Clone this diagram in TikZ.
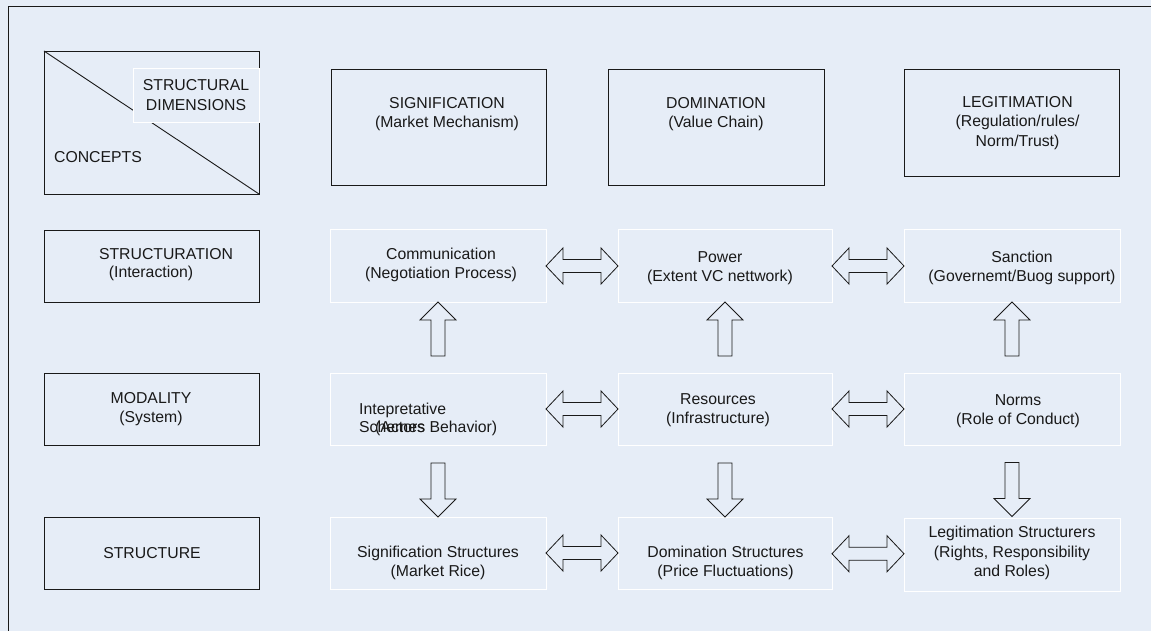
\documentclass[tikz,border=0pt]{standalone}
\usepackage{fontspec}
\setmainfont{Liberation Sans}
\usetikzlibrary{calc}
\definecolor{bg}{RGB}{230,237,247}
\definecolor{ink}{RGB}{25,25,25}
\tikzset{
  darkbox/.style={draw=ink, line width=0.9pt, fill=bg, inner sep=0pt, outer sep=0pt},
  lightbox/.style={draw=white, line width=1pt, fill=bg, inner sep=0pt, outer sep=0pt},
  txt/.style={font=\fontsize{15.8}{19.5}\selectfont, align=center, inner sep=0pt, text=ink},
  blockarrow/.style={draw=ink, line width=0.8pt, fill=bg, line join=miter},
  pics/uparr/.style={code={\draw[blockarrow] (0,0) -- (-18,18) -- (-7,18) -- (-7,54) -- (7,54) -- (7,18) -- (18,18) -- cycle;}},
  pics/downarr/.style={code={\draw[blockarrow] (0,0) -- (-18,-18) -- (-7,-18) -- (-7,-54) -- (7,-54) -- (7,-18) -- (18,-18) -- cycle;}},
  pics/dblarr/.style={code={\draw[blockarrow] (-36,0) -- (-19,-18) -- (-19,-6.5) -- (19,-6.5) -- (19,-18) -- (36,0) -- (19,18) -- (19,6.5) -- (-19,6.5) -- (-19,18) -- cycle;}},
}
\begin{document}
\begin{tikzpicture}[x=1pt,y=-1pt]
\useasboundingbox (0,0) rectangle (1151,631);
\fill[bg] (0,0) rectangle (1151,631);
% outer frame (top and left)
\coordinate (fa) at (8,631);
\coordinate (fb) at (8,6);
\coordinate (fc) at (1151,6);
\draw[ink, line width=0.9pt] (fa) -- (fb) -- (fc);

% concepts box
\node[darkbox, minimum width=215pt, minimum height=143pt] (concept) at (151.5,122.5) {};
\draw[ink, line width=0.9pt] (concept.north west) -- (concept.south east);
\node[lightbox, minimum width=126pt, minimum height=54pt] (dimbox) at (196,96) {};
\node[txt] (dimtxt) at (196,95) {STRUCTURAL\\DIMENSIONS};
\node[txt] (concepttxt) at (98,157) {CONCEPTS};

% top row
\node[darkbox, minimum width=215pt, minimum height=116pt] (sig) at (438.5,127) {};
\node[txt] (sigtxt) at (447,114) {SIGNIFICATION\\(Market Mechanism)};
\node[darkbox, minimum width=216pt, minimum height=116pt] (dom) at (716,127) {};
\node[txt] (domtxt) at (716,114) {DOMINATION\\(Value Chain)};
\node[darkbox, minimum width=215pt, minimum height=107pt] (leg) at (1011.5,122.5) {};
\node[txt] (legtxt) at (1017.5,123) {LEGITIMATION\\(Regulation/rules/\\Norm/Trust)};

% row 2
\node[darkbox, minimum width=215pt, minimum height=72pt] (structuration) at (151.5,266) {};
\node[txt] (structtxta) at (166,254) {STRUCTURATION};
\node[txt] (structtxtb) at (151,273) {(Interaction)};
\node[lightbox, minimum width=216pt, minimum height=72pt] (comm) at (438,266) {};
\node[txt] (commtxt) at (441,265) {Communication\\(Negotiation Process)};
\node[lightbox, minimum width=214pt, minimum height=72pt] (power) at (725,266) {};
\node[txt] (powertxt) at (720,268) {Power\\(Extent VC nettwork)};
\node[lightbox, minimum width=216pt, minimum height=72pt] (sanction) at (1012,266) {};
\node[txt] (sanctxt) at (1022,268) {Sanction\\(Governemt/Buog support)};

% row 3
\node[darkbox, minimum width=215pt, minimum height=72pt] (modality) at (151.5,409) {};
\node[txt] (modtxt) at (151,409) {MODALITY\\(System)};
\node[lightbox, minimum width=216pt, minimum height=72pt] (interp) at (438,409) {};
\node[txt, anchor=base west] (interptxta) at (359,414.5) {Intepretative};
\node[txt, anchor=base west] (interptxtb) at (359,432.5) {Schemes};
\node[txt, anchor=base west] (interptxtc) at (375,432.5) {(Actors Behavior)};
\node[lightbox, minimum width=214pt, minimum height=72pt] (res) at (725,409) {};
\node[txt] (restxt) at (718,410) {Resources\\(Infrastructure)};
\node[lightbox, minimum width=216pt, minimum height=72pt] (norms) at (1012,409) {};
\node[txt] (normstxt) at (1018,411) {Norms\\(Role of Conduct)};

% row 4
\node[darkbox, minimum width=215pt, minimum height=72pt] (structure) at (151.5,553) {};
\node[txt] (structuretxt) at (152,553) {STRUCTURE};
\node[lightbox, minimum width=216pt, minimum height=72pt] (sigs) at (438,553) {};
\node[txt] (sigstxt) at (438,563) {Signification Structures\\(Market Rice)};
\node[lightbox, minimum width=214pt, minimum height=72pt] (doms) at (725,553) {};
\node[txt] (domstxt) at (725.5,563) {Domination Structures\\(Price Fluctuations)};
\node[lightbox, minimum width=216pt, minimum height=73pt] (legs) at (1012,554.5) {};
\node[txt] (legstxt) at (1012,553) {Legitimation Structurers\\(Rights, Responsibility\\and Roles)};

% horizontal double arrows
\pic at ($(comm.east)!0.5!(power.west)$) {dblarr};
\pic at ($(power.east)!0.5!(sanction.west)$) {dblarr};
\pic at ($(interp.east)!0.5!(res.west)$) {dblarr};
\pic at ($(res.east)!0.5!(norms.west)$) {dblarr};
\pic at ($(sigs.east)!0.5!(doms.west)$) {dblarr};
\pic at ($(doms.east)!0.5!(legs.west)$) {dblarr};

% up arrows (modality -> structuration)
\pic at (comm.south) {uparr};
\pic at (power.south) {uparr};
\pic at (sanction.south) {uparr};

% down arrows (modality -> structure)
\pic at (sigs.north) {downarr};
\pic at (doms.north) {downarr};
\pic at ($(legs.north)+(0,-1.5)$) {downarr};
\end{tikzpicture}
\end{document}
